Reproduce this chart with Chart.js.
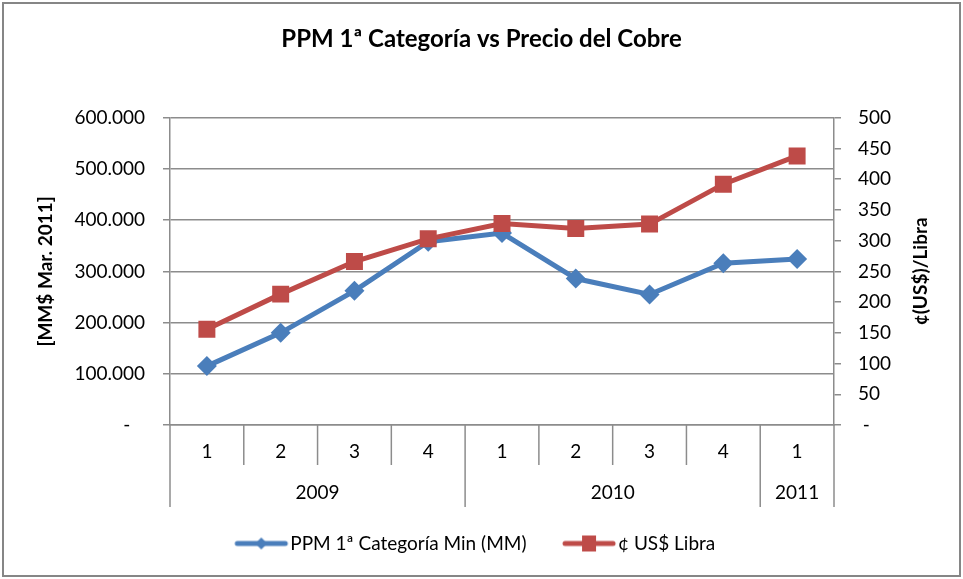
<!DOCTYPE html>
<html>
<head>
<meta charset="utf-8">
<script src="https://cdn.jsdelivr.net/npm/chart.js@4.4.1/dist/chart.umd.min.js"></script>
<style>
  html, body { margin: 0; padding: 0; background: #fff; }
  canvas { display: block; }
</style>
</head>
<body>
<canvas id="c" width="963" height="579"></canvas>
<script>
// ---- Data ----
const quarters = ['1', '2', '3', '4', '1', '2', '3', '4', '1'];
const years = ['2009', '2009', '2009', '2009', '2010', '2010', '2010', '2010', '2011'];
const ppmValues = [115000, 180000, 262000, 358000, 375000, 286000, 255000, 316000, 324000];
const copperValues = [156, 213, 266, 303, 328, 320, 327, 392, 438];
const seriesNames = ['PPM 1ª Categoría Min (MM)', '¢ US$ Libra'];
const chartTitle = 'PPM 1ª Categoría vs Precio del Cobre';
const leftAxisTitle = '[MM$ Mar. 2011]';
const rightAxisTitle = '¢(US$)/Libra';

const BLUE = '#4A7EBB';
const RED = '#BE4B48';
const GRID = '#8C8C8C';
const FONT = 'Lato, "Open Sans", "DejaVu Sans", sans-serif';
const FS = 19;

function fmtThousands(v) {
  if (v === 0) return '-   ';
  return Math.round(v).toString().replace(/\B(?=(\d{3})+(?!\d))/g, '.');
}

function legendSample(color, style) {
  const c = document.createElement('canvas');
  c.width = 74; c.height = 20;
  const g = c.getContext('2d');
  g.strokeStyle = color; g.lineWidth = 5; g.lineCap = 'round';
  g.beginPath(); g.moveTo(21, 10); g.lineTo(69, 10); g.stroke();
  g.fillStyle = color;
  const cx = 45, cy = 10;
  if (style === 'diamond') {
    g.beginPath(); g.moveTo(cx, cy - 6); g.lineTo(cx + 6, cy); g.lineTo(cx, cy + 6); g.lineTo(cx - 6, cy); g.closePath(); g.fill();
  } else {
    g.fillRect(cx - 7, cy - 8, 14, 16);
  }
  return c;
}
const samples = [legendSample(BLUE, 'diamond'), legendSample(RED, 'square')];

const decorPlugin = {
  id: 'decor',
  afterLayout(chart) {
    if (chart.legend) { chart.legend.left -= 11; chart.legend.right -= 11; }
  },
  beforeDraw(chart) {
    const ctx = chart.ctx;
    ctx.save();
    ctx.fillStyle = '#fff';
    ctx.fillRect(0, 0, chart.width, chart.height);
    ctx.restore();
  },
  afterDraw(chart) {
    const ctx = chart.ctx;
    const xs = chart.scales.x;
    const n = quarters.length;
    const step = xs.getPixelForValue(1) - xs.getPixelForValue(0);
    ctx.save();
    ctx.strokeStyle = GRID;
    ctx.lineWidth = 1.5;
    for (let i = 0; i <= n; i++) {
      const bx = i < n ? xs.getPixelForValue(i) - step / 2 : xs.getPixelForValue(n - 1) + step / 2;
      const yearBoundary = i === 0 || i === n || years[i] !== years[i - 1];
      const y1 = yearBoundary ? xs.bottom : xs.top + 40;
      ctx.beginPath(); ctx.moveTo(bx, xs.top); ctx.lineTo(bx, y1); ctx.stroke();
    }
    ctx.fillStyle = '#000';
    ctx.font = FS + 'px ' + FONT;
    ctx.textAlign = 'center';
    ctx.textBaseline = 'middle';
    let start = 0;
    for (let i = 1; i <= n; i++) {
      if (i === n || years[i] !== years[start]) {
        const x0 = xs.getPixelForValue(start) - step / 2;
        const x1 = xs.getPixelForValue(i - 1) + step / 2;
        ctx.fillText(years[start], (x0 + x1) / 2, xs.top + 68);
        start = i;
      }
    }
    const ca = chart.chartArea;
    ctx.font = 'bold ' + FS + 'px ' + FONT;
    ctx.translate(921, (ca.top + ca.bottom) / 2);
    ctx.rotate(-Math.PI / 2);
    ctx.fillText(rightAxisTitle, 0, 0);
    ctx.restore();
    ctx.save();
    ctx.strokeStyle = '#868686';
    ctx.lineWidth = 2;
    ctx.strokeRect(3, 3, chart.width - 6, chart.height - 6);
    ctx.restore();
  }
};

new Chart(document.getElementById('c'), {
  type: 'line',
  data: {
    labels: quarters,
    datasets: [
      {
        label: seriesNames[0],
        data: ppmValues,
        yAxisID: 'y',
        borderColor: BLUE,
        backgroundColor: BLUE,
        borderWidth: 5,
        pointStyle: 'rectRot',
        pointRadius: 10,
        pointHoverRadius: 10,
        pointBorderWidth: 0,
        tension: 0,
        order: 1
      },
      {
        label: seriesNames[1],
        data: copperValues,
        yAxisID: 'y2',
        borderColor: RED,
        backgroundColor: RED,
        borderWidth: 5,
        pointStyle: 'rect',
        pointRadius: 12,
        pointHoverRadius: 12,
        pointBorderWidth: 0,
        tension: 0,
        order: 0
      }
    ]
  },
  options: {
    responsive: false,
    animation: false,
    devicePixelRatio: 1,
    layout: { padding: { left: 0, right: 0, top: 0, bottom: 16 } },
    plugins: {
      tooltip: { enabled: false },
      title: {
        display: true,
        text: chartTitle,
        color: '#000',
        font: { family: FONT, size: 24, weight: 'bold', lineHeight: 1.2 },
        padding: { top: 25, bottom: 64 }
      },
      legend: {
        display: true,
        position: 'bottom',
        labels: {
          color: '#000',
          font: { family: FONT, size: FS },
          usePointStyle: true,
          pointStyleWidth: 55,
          boxHeight: FS,
          padding: 27,
          sort: (a, b) => a.datasetIndex - b.datasetIndex,
          generateLabels(chart) {
            const items = Chart.defaults.plugins.legend.labels.generateLabels(chart);
            items.forEach(it => { it.pointStyle = samples[it.datasetIndex]; });
            return items;
          }
        }
      }
    },
    scales: {
      x: {
        type: 'category',
        offset: true,
        grid: { display: false },
        border: { display: true, color: GRID, width: 1.5 },
        ticks: { color: '#000', font: { family: FONT, size: FS }, padding: 7, autoSkip: false, maxRotation: 0 },
        afterFit(s) { s.height = 82; }
      },
      y: {
        position: 'left',
        min: 0,
        max: 600000,
        ticks: { stepSize: 100000, color: '#000', font: { family: FONT, size: FS }, padding: 18, callback: v => fmtThousands(v) },
        grid: { color: GRID, lineWidth: 1.5, tickLength: 7, drawTicks: true },
        border: { display: true, color: GRID, width: 1.5 },
        title: {
          display: true,
          text: leftAxisTitle,
          color: '#000',
          font: { family: FONT, size: FS, weight: 'bold' },
          padding: { top: 34, bottom: 0 }
        },
        afterFit(s) { s.width = 170; }
      },
      y2: {
        position: 'right',
        min: 0,
        max: 500,
        ticks: { stepSize: 50, color: '#000', font: { family: FONT, size: FS }, padding: 17, callback: v => v === 0 ? ' -' : String(v) },
        grid: { drawOnChartArea: false, color: GRID, lineWidth: 1.5, tickLength: 7, drawTicks: true },
        border: { display: true, color: GRID, width: 1.5 },
        afterFit(s) { s.width = 963 - 834; }
      }
    }
  },
  plugins: [decorPlugin]
});
</script>
</body>
</html>
